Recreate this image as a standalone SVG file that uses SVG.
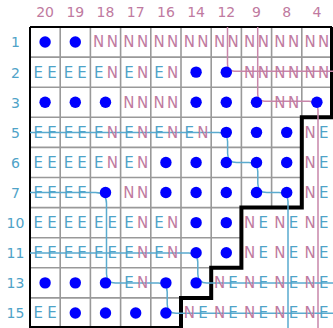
<svg xmlns="http://www.w3.org/2000/svg" width="333" height="328" viewBox="0 0 333 328">
<style>
.g{stroke:#999;stroke-width:1.6;fill:none}
.st{stroke:#000;stroke-width:4;fill:none}
.bd{stroke:#000;stroke-width:2;fill:none}
.ct{stroke:#5aabcf;stroke-width:1.5;fill:none}
.cp{stroke:#c886aa;stroke-width:1.5;fill:none}
text{font-family:"DejaVu Sans",Verdana,sans-serif;font-size:14px;text-anchor:middle}
#cells text{font-size:15px}
.n{fill:#c07aa0}
.e{fill:#4fa3c8}
circle{fill:#0000ff}
</style>
<rect width="333" height="328" fill="#fff"/>
<g id="headers">
<g id="col-headers">
<text x="45.1" y="17" class="n">20</text><text x="75.3" y="17" class="n">19</text><text x="105.5" y="17" class="n">18</text><text x="135.7" y="17" class="n">17</text><text x="165.9" y="17" class="n">16</text><text x="196.1" y="17" class="n">14</text><text x="226.3" y="17" class="n">12</text><text x="256.5" y="17" class="n">9</text><text x="286.7" y="17" class="n">8</text><text x="316.9" y="17" class="n">4</text>
</g>
<g id="row-headers">
<text x="15.5" y="47.4" class="e">1</text><text x="15.5" y="77.5" class="e">2</text><text x="15.5" y="107.6" class="e">3</text><text x="15.5" y="137.7" class="e">5</text><text x="15.5" y="167.8" class="e">6</text><text x="15.5" y="197.9" class="e">7</text><text x="15.5" y="228" class="e">10</text><text x="15.5" y="258.1" class="e">11</text><text x="15.5" y="288.2" class="e">13</text><text x="15.5" y="318.3" class="e">15</text>
</g>
</g>
<g id="grid">
<path class="g" d="M60.2 27V328M90.4 27V328M120.6 27V328M150.8 27V328M181 27V328M211.2 27V267.8M241.4 27V207.6M271.6 27V207.6M301.8 27V117.3"/>
<path class="g" d="M30 57.1H332M30 87.2H332M30 117.3H301.8M30 147.4H301.8M30 177.5H301.8M30 207.6H241.4M30 237.7H241.4M30 267.8H211.2M30 297.9H181"/>
<path class="bd" d="M30 27H332M30 27V328M30 327H181"/>
<path class="st" d="M332 27V117.3H301.8V207.6H241.4V267.8H211.2V297.9H181V328"/>
</g>
<g id="connectors">
<path class="cp" d="M227.5 27V64.2Q227.5 71.2 234.5 71.2H333"/>
<path class="cp" d="M257.7 27V94.3Q257.7 101.3 264.7 101.3H309Q318 101.3 318 110.3V328"/>
<path class="ct" d="M30 132.4H218.6Q227.6 132.4 227.6 141.4V153.5Q227.6 162.5 236.6 162.5H248.8Q257.8 162.5 257.8 171.5V183.6Q257.8 192.6 266.8 192.6H279Q288 192.6 288 201.6V328"/>
<path class="ct" d="M30 192.6H95.5Q106.5 192.6 106.5 203.6V273.9Q106.5 282.9 115.5 282.9H158.2Q167.2 282.9 167.2 291.9V304.2Q167.2 313.2 176.2 313.2H333"/>
<path class="ct" d="M30 253H188.8Q197.8 253 197.8 262V273.9Q197.8 282.9 206.8 282.9H333"/>
</g>
<g id="cells">
<g id="r1-20"><circle cx="45.1" cy="42.05" r="5.7"/></g>
<g id="r1-19"><circle cx="75.3" cy="42.05" r="5.7"/></g>
<g id="r1-18"><text y="47.4"><tspan class="n" x="98.7">N</tspan><tspan class="n" x="112.3">N</tspan></text></g>
<g id="r1-17"><text y="47.4"><tspan class="n" x="128.9">N</tspan><tspan class="n" x="142.5">N</tspan></text></g>
<g id="r1-16"><text y="47.4"><tspan class="n" x="159.1">N</tspan><tspan class="n" x="172.7">N</tspan></text></g>
<g id="r1-14"><text y="47.4"><tspan class="n" x="189.3">N</tspan><tspan class="n" x="202.9">N</tspan></text></g>
<g id="r1-12"><text y="47.4"><tspan class="n" x="219.5">N</tspan><tspan class="n" x="233.1">N</tspan></text></g>
<g id="r1-9"><text y="47.4"><tspan class="n" x="249.7">N</tspan><tspan class="n" x="263.3">N</tspan></text></g>
<g id="r1-8"><text y="47.4"><tspan class="n" x="279.9">N</tspan><tspan class="n" x="293.5">N</tspan></text></g>
<g id="r1-4"><text y="47.4"><tspan class="n" x="310.1">N</tspan><tspan class="n" x="323.7">N</tspan></text></g>
<g id="r2-20"><text y="77.5"><tspan class="e" x="38.3">E</tspan><tspan class="e" x="51.9">E</tspan></text></g>
<g id="r2-19"><text y="77.5"><tspan class="e" x="68.5">E</tspan><tspan class="e" x="82.1">E</tspan></text></g>
<g id="r2-18"><text y="77.5"><tspan class="e" x="98.7">E</tspan><tspan class="n" x="112.3">N</tspan></text></g>
<g id="r2-17"><text y="77.5"><tspan class="e" x="128.9">E</tspan><tspan class="n" x="142.5">N</tspan></text></g>
<g id="r2-16"><text y="77.5"><tspan class="e" x="159.1">E</tspan><tspan class="n" x="172.7">N</tspan></text></g>
<g id="r2-14"><circle cx="196.1" cy="72.15" r="5.7"/></g>
<g id="r2-12"><circle cx="226.3" cy="72.15" r="5.7"/></g>
<g id="r2-9"><text y="77.5"><tspan class="n" x="249.7">N</tspan><tspan class="n" x="263.3">N</tspan></text></g>
<g id="r2-8"><text y="77.5"><tspan class="n" x="279.9">N</tspan><tspan class="n" x="293.5">N</tspan></text></g>
<g id="r2-4"><text y="77.5"><tspan class="n" x="310.1">N</tspan><tspan class="n" x="323.7">N</tspan></text></g>
<g id="r3-20"><circle cx="45.1" cy="102.25" r="5.7"/></g>
<g id="r3-19"><circle cx="75.3" cy="102.25" r="5.7"/></g>
<g id="r3-18"><circle cx="105.5" cy="102.25" r="5.7"/></g>
<g id="r3-17"><text y="107.6"><tspan class="n" x="128.9">N</tspan><tspan class="n" x="142.5">N</tspan></text></g>
<g id="r3-16"><text y="107.6"><tspan class="n" x="159.1">N</tspan><tspan class="n" x="172.7">N</tspan></text></g>
<g id="r3-14"><circle cx="196.1" cy="102.25" r="5.7"/></g>
<g id="r3-12"><circle cx="226.3" cy="102.25" r="5.7"/></g>
<g id="r3-9"><circle cx="256.5" cy="102.25" r="5.7"/></g>
<g id="r3-8"><text y="107.6"><tspan class="n" x="279.9">N</tspan><tspan class="n" x="293.5">N</tspan></text></g>
<g id="r3-4"><circle cx="316.9" cy="102.25" r="5.7"/></g>
<g id="r5-20"><text y="137.7"><tspan class="e" x="38.3">E</tspan><tspan class="e" x="51.9">E</tspan></text></g>
<g id="r5-19"><text y="137.7"><tspan class="e" x="68.5">E</tspan><tspan class="e" x="82.1">E</tspan></text></g>
<g id="r5-18"><text y="137.7"><tspan class="e" x="98.7">E</tspan><tspan class="n" x="112.3">N</tspan></text></g>
<g id="r5-17"><text y="137.7"><tspan class="e" x="128.9">E</tspan><tspan class="n" x="142.5">N</tspan></text></g>
<g id="r5-16"><text y="137.7"><tspan class="e" x="159.1">E</tspan><tspan class="n" x="172.7">N</tspan></text></g>
<g id="r5-14"><text y="137.7"><tspan class="e" x="189.3">E</tspan><tspan class="n" x="202.9">N</tspan></text></g>
<g id="r5-12"><circle cx="226.3" cy="132.35" r="5.7"/></g>
<g id="r5-9"><circle cx="256.5" cy="132.35" r="5.7"/></g>
<g id="r5-8"><circle cx="286.7" cy="132.35" r="5.7"/></g>
<g id="r5-4"><text y="137.7"><tspan class="n" x="310.1">N</tspan><tspan class="e" x="323.7">E</tspan></text></g>
<g id="r6-20"><text y="167.8"><tspan class="e" x="38.3">E</tspan><tspan class="e" x="51.9">E</tspan></text></g>
<g id="r6-19"><text y="167.8"><tspan class="e" x="68.5">E</tspan><tspan class="e" x="82.1">E</tspan></text></g>
<g id="r6-18"><text y="167.8"><tspan class="e" x="98.7">E</tspan><tspan class="n" x="112.3">N</tspan></text></g>
<g id="r6-17"><text y="167.8"><tspan class="e" x="128.9">E</tspan><tspan class="n" x="142.5">N</tspan></text></g>
<g id="r6-16"><circle cx="165.9" cy="162.45" r="5.7"/></g>
<g id="r6-14"><circle cx="196.1" cy="162.45" r="5.7"/></g>
<g id="r6-12"><circle cx="226.3" cy="162.45" r="5.7"/></g>
<g id="r6-9"><circle cx="256.5" cy="162.45" r="5.7"/></g>
<g id="r6-8"><circle cx="286.7" cy="162.45" r="5.7"/></g>
<g id="r6-4"><text y="167.8"><tspan class="n" x="310.1">N</tspan><tspan class="e" x="323.7">E</tspan></text></g>
<g id="r7-20"><text y="197.9"><tspan class="e" x="38.3">E</tspan><tspan class="e" x="51.9">E</tspan></text></g>
<g id="r7-19"><text y="197.9"><tspan class="e" x="68.5">E</tspan><tspan class="e" x="82.1">E</tspan></text></g>
<g id="r7-18"><circle cx="105.5" cy="192.55" r="5.7"/></g>
<g id="r7-17"><text y="197.9"><tspan class="n" x="128.9">N</tspan><tspan class="n" x="142.5">N</tspan></text></g>
<g id="r7-16"><circle cx="165.9" cy="192.55" r="5.7"/></g>
<g id="r7-14"><circle cx="196.1" cy="192.55" r="5.7"/></g>
<g id="r7-12"><circle cx="226.3" cy="192.55" r="5.7"/></g>
<g id="r7-9"><circle cx="256.5" cy="192.55" r="5.7"/></g>
<g id="r7-8"><circle cx="286.7" cy="192.55" r="5.7"/></g>
<g id="r7-4"><text y="197.9"><tspan class="n" x="310.1">N</tspan><tspan class="e" x="323.7">E</tspan></text></g>
<g id="r10-20"><text y="228"><tspan class="e" x="38.3">E</tspan><tspan class="e" x="51.9">E</tspan></text></g>
<g id="r10-19"><text y="228"><tspan class="e" x="68.5">E</tspan><tspan class="e" x="82.1">E</tspan></text></g>
<g id="r10-18"><text y="228"><tspan class="e" x="98.7">E</tspan><tspan class="e" x="112.3">E</tspan></text></g>
<g id="r10-17"><text y="228"><tspan class="e" x="128.9">E</tspan><tspan class="n" x="142.5">N</tspan></text></g>
<g id="r10-16"><text y="228"><tspan class="e" x="159.1">E</tspan><tspan class="n" x="172.7">N</tspan></text></g>
<g id="r10-14"><circle cx="196.1" cy="222.65" r="5.7"/></g>
<g id="r10-12"><circle cx="226.3" cy="222.65" r="5.7"/></g>
<g id="r10-9"><text y="228"><tspan class="n" x="249.7">N</tspan><tspan class="e" x="263.3">E</tspan></text></g>
<g id="r10-8"><text y="228"><tspan class="n" x="279.9">N</tspan><tspan class="e" x="293.5">E</tspan></text></g>
<g id="r10-4"><text y="228"><tspan class="n" x="310.1">N</tspan><tspan class="e" x="323.7">E</tspan></text></g>
<g id="r11-20"><text y="258.1"><tspan class="e" x="38.3">E</tspan><tspan class="e" x="51.9">E</tspan></text></g>
<g id="r11-19"><text y="258.1"><tspan class="e" x="68.5">E</tspan><tspan class="e" x="82.1">E</tspan></text></g>
<g id="r11-18"><text y="258.1"><tspan class="e" x="98.7">E</tspan><tspan class="e" x="112.3">E</tspan></text></g>
<g id="r11-17"><text y="258.1"><tspan class="e" x="128.9">E</tspan><tspan class="n" x="142.5">N</tspan></text></g>
<g id="r11-16"><text y="258.1"><tspan class="e" x="159.1">E</tspan><tspan class="n" x="172.7">N</tspan></text></g>
<g id="r11-14"><circle cx="196.1" cy="252.75" r="5.7"/></g>
<g id="r11-12"><circle cx="226.3" cy="252.75" r="5.7"/></g>
<g id="r11-9"><text y="258.1"><tspan class="n" x="249.7">N</tspan><tspan class="e" x="263.3">E</tspan></text></g>
<g id="r11-8"><text y="258.1"><tspan class="n" x="279.9">N</tspan><tspan class="e" x="293.5">E</tspan></text></g>
<g id="r11-4"><text y="258.1"><tspan class="n" x="310.1">N</tspan><tspan class="e" x="323.7">E</tspan></text></g>
<g id="r13-20"><circle cx="45.1" cy="282.85" r="5.7"/></g>
<g id="r13-19"><circle cx="75.3" cy="282.85" r="5.7"/></g>
<g id="r13-18"><circle cx="105.5" cy="282.85" r="5.7"/></g>
<g id="r13-17"><text y="288.2"><tspan class="e" x="128.9">E</tspan><tspan class="n" x="142.5">N</tspan></text></g>
<g id="r13-16"><circle cx="165.9" cy="282.85" r="5.7"/></g>
<g id="r13-14"><circle cx="196.1" cy="282.85" r="5.7"/></g>
<g id="r13-12"><text y="288.2"><tspan class="n" x="219.5">N</tspan><tspan class="e" x="233.1">E</tspan></text></g>
<g id="r13-9"><text y="288.2"><tspan class="n" x="249.7">N</tspan><tspan class="e" x="263.3">E</tspan></text></g>
<g id="r13-8"><text y="288.2"><tspan class="n" x="279.9">N</tspan><tspan class="e" x="293.5">E</tspan></text></g>
<g id="r13-4"><text y="288.2"><tspan class="n" x="310.1">N</tspan><tspan class="e" x="323.7">E</tspan></text></g>
<g id="r15-20"><text y="318.3"><tspan class="e" x="38.3">E</tspan><tspan class="e" x="51.9">E</tspan></text></g>
<g id="r15-19"><circle cx="75.3" cy="312.95" r="5.7"/></g>
<g id="r15-18"><circle cx="105.5" cy="312.95" r="5.7"/></g>
<g id="r15-17"><circle cx="135.7" cy="312.95" r="5.7"/></g>
<g id="r15-16"><circle cx="165.9" cy="312.95" r="5.7"/></g>
<g id="r15-14"><text y="318.3"><tspan class="n" x="189.3">N</tspan><tspan class="e" x="202.9">E</tspan></text></g>
<g id="r15-12"><text y="318.3"><tspan class="n" x="219.5">N</tspan><tspan class="e" x="233.1">E</tspan></text></g>
<g id="r15-9"><text y="318.3"><tspan class="n" x="249.7">N</tspan><tspan class="e" x="263.3">E</tspan></text></g>
<g id="r15-8"><text y="318.3"><tspan class="n" x="279.9">N</tspan><tspan class="e" x="293.5">E</tspan></text></g>
<g id="r15-4"><text y="318.3"><tspan class="n" x="310.1">N</tspan><tspan class="e" x="323.7">E</tspan></text></g>
</g>
</svg>
